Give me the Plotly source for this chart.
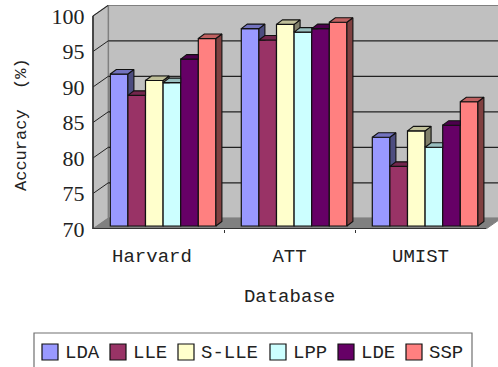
import plotly.graph_objects as go

databases = ["Harvard", "ATT", "UMIST"]
methods = ["LDA", "LLE", "S-LLE", "LPP", "LDE", "SSP"]
lda = [91.4, 97.8, 82.5]
lle = [88.4, 96.2, 78.4]
s_lle = [90.5, 98.4, 83.4]
lpp = [90.2, 97.3, 81.1]
lde = [93.5, 97.8, 84.2]
ssp = [96.4, 98.7, 87.5]
series = [lda, lle, s_lle, lpp, lde, ssp]
y_ticks = [70, 75, 80, 85, 90, 95, 100]
label_pos = [0.45, 1.5, 2.5]
legend_swatch_px = [42, 110, 178, 270, 338, 406]
legend_text_px = [64, 132, 200, 292, 360, 428]

front = ["#9999FF", "#993366", "#FFFFCC", "#CCFFFF", "#660066", "#FF8080"]
top_c = ["#7373BF", "#73264D", "#BFBF99", "#99BFBF", "#4D004D", "#BF6060"]
side_c = ["#4D4D80", "#4D1A33", "#80806A", "#668080", "#330033", "#804040"]

FONT = "Liberation Mono"
NUM_FONT = "Liberation Serif"
W, H = 498, 367
L, R, T, B = 93, 12, 5, 138
PLOT_W = W - L - R
PLOT_H = H - B - T
PX_X = PLOT_W / 3
PX_Y = 7.1
Y_TOP = 70 + PLOT_H / PX_Y

WALL_DX = 15.3 / PLOT_W
WALL_DY = 10.7 / PX_Y
RIGHT = (W - L) / PLOT_W
BAR_W = 17.6 / PX_X
BAR_X0 = 17.3 / PX_X
BASE = 70 + 3 / PX_Y
DX = 6 / PX_X
DY = 4.5 / PX_Y

fig = go.Figure()

for i, (name, vals) in enumerate(zip(methods, series)):
    xs = [g + BAR_X0 + (i + 0.5) * BAR_W for g in range(3)]
    fig.add_trace(go.Bar(
        x=xs, y=[v - 70 for v in vals], base=BASE, width=BAR_W, name=name,
        marker=dict(color=front[i], line=dict(color="#111111", width=1.2)),
        customdata=[[databases[g], vals[g]] for g in range(3)],
        hovertemplate="%{customdata[0]}: %{customdata[1]}<extra>" + name + "</extra>",
        showlegend=False,
    ))

for i, vals in enumerate(series):
    tx, ty, sx, sy = [], [], [], []
    for g in range(3):
        v = vals[g] + BASE - 70
        xr = g + BAR_X0 + (i + 1) * BAR_W
        xl = xr - BAR_W
        n = series[i + 1][g] + BASE - 70 if i < 5 else None
        if n is None or n <= v:
            top = [(xl, v), (xr, v), (xr + DX, v + DY), (xl + DX, v + DY)]
        elif n < v + DY:
            top = [(xl, v), (xr, v), (xr, n), (xr + DX * (n - v) / DY, n),
                   (xr + DX, v + DY), (xl + DX, v + DY)]
        else:
            top = [(xl, v), (xr, v), (xr, v + DY), (xl + DX, v + DY)]
        for p in top + [top[0]]:
            tx.append(p[0]); ty.append(p[1])
        tx.append(None); ty.append(None)

        if n is None:
            side = [(xr, BASE), (xr + DX, BASE + DY), (xr + DX, v + DY), (xr, v)]
        elif n <= v:
            side = [(xr, n), (xr + DX, n), (xr + DX, v + DY), (xr, v)]
        elif n < v + DY:
            side = [(xr + DX * (n - v) / DY, n), (xr + DX, n), (xr + DX, v + DY)]
        else:
            side = []
        if side:
            for p in side + [side[0]]:
                sx.append(p[0]); sy.append(p[1])
            sx.append(None); sy.append(None)
    for px, py, col in ((sx, sy, side_c[i]), (tx, ty, top_c[i])):
        fig.add_trace(go.Scatter(
            x=px, y=py, mode="lines", fill="toself", fillcolor=col,
            line=dict(color="#111111", width=1.1), showlegend=False,
            hoverinfo="skip", cliponaxis=False,
        ))

shapes = []
def poly(points, fill, line, width):
    path = "M" + "L".join(f"{x},{y}" for x, y in points) + "Z"
    shapes.append(dict(type="path", path=path, xref="paper", yref="y", layer="below",
                       fillcolor=fill, line=dict(color=line, width=width)))
def seg(x0, y0, x1, y1, color, width):
    shapes.append(dict(type="line", x0=x0, y0=y0, x1=x1, y1=y1, xref="paper", yref="y",
                       layer="below", line=dict(color=color, width=width)))

poly([(WALL_DX, 70 + WALL_DY), (RIGHT + 0.05, 70 + WALL_DY), (RIGHT + 0.05, 100 + WALL_DY), (WALL_DX, 100 + WALL_DY)],
     "#C0C0C0", "#808080", 1.6)
poly([(0, 70), (WALL_DX, 70 + WALL_DY), (WALL_DX, 100 + WALL_DY), (0, 100)], "#C0C0C0", "#808080", 1.4)
poly([(0, 70), (1, 70), (1 + WALL_DX, 70 + WALL_DY), (WALL_DX, 70 + WALL_DY)], "#808080", "#808080", 1)
for t in y_ticks[1:-1]:
    seg(WALL_DX, t + WALL_DY, RIGHT, t + WALL_DY, "#222222", 1.3)
for t in y_ticks[1:]:
    seg(0, t, WALL_DX, t + WALL_DY, "#222222", 1)
seg(0, 70, 0, 100, "#333333", 1.6)
seg(0, 70, 1, 70, "#333333", 1.8)

def px_x(p):
    return (p - L) / PLOT_W
def px_y(p):
    return (H - B - p) / PLOT_H

shapes.append(dict(type="rect", xref="paper", yref="paper", x0=px_x(34), x1=px_x(472),
                   y0=px_y(375), y1=px_y(333), fillcolor="white",
                   line=dict(color="#707070", width=1.2)))
annotations = [dict(text="Accuracy\u00a0\u00a0(%)", xref="paper", yref="paper", x=px_x(21), y=px_y(125),
                    xanchor="center", yanchor="middle", textangle=-90, showarrow=False,
                    font=dict(family=FONT, size=17, color="#222222"))]
for i, name in enumerate(methods):
    shapes.append(dict(type="rect", xref="paper", yref="paper",
                       x0=px_x(legend_swatch_px[i]), x1=px_x(legend_swatch_px[i] + 16),
                       y0=px_y(360), y1=px_y(344), fillcolor=front[i],
                       line=dict(color="#111111", width=1.2)))
    annotations.append(dict(text=name, xref="paper", yref="paper", x=px_x(legend_text_px[i]),
                            y=px_y(353), xanchor="left", yanchor="middle", showarrow=False,
                            xshift=-1, font=dict(family=FONT, size=19, color="#222222")))

fig.update_layout(
    width=W, height=H, autosize=False,
    margin=dict(l=L, r=R, t=T, b=B, pad=0, autoexpand=False),
    paper_bgcolor="white", plot_bgcolor="white",
    barmode="overlay", shapes=shapes, annotations=annotations,
    font=dict(family=FONT, size=18, color="#222222"),
    xaxis=dict(
        range=[0, 3], tickmode="array", tickvals=label_pos, ticktext=databases,
        ticks="outside", ticklen=9, tickcolor="rgba(0,0,0,0)", showgrid=False, zeroline=False,
        showline=False, tickfont=dict(size=19, family=FONT),
        minor=dict(tickmode="array", tickvals=[1, 2], ticks="outside", ticklen=3,
                   tickcolor="#333333", showgrid=False),
        title=dict(text="Database", standoff=21, font=dict(size=19, family=FONT)),
        automargin=False,
    ),
    yaxis=dict(
        range=[70, Y_TOP], tickmode="array", tickvals=y_ticks, ticktext=[str(t) for t in y_ticks],
        ticks="outside", ticklen=3, tickcolor="rgba(0,0,0,0)", showgrid=False, zeroline=False,
        showline=False, tickfont=dict(size=22, family=NUM_FONT),
        automargin=False,
    ),
    showlegend=False,
)

fig.write_html("out.html", config={"displayModeBar": False},
               post_script="document.body.style.margin='0';")
